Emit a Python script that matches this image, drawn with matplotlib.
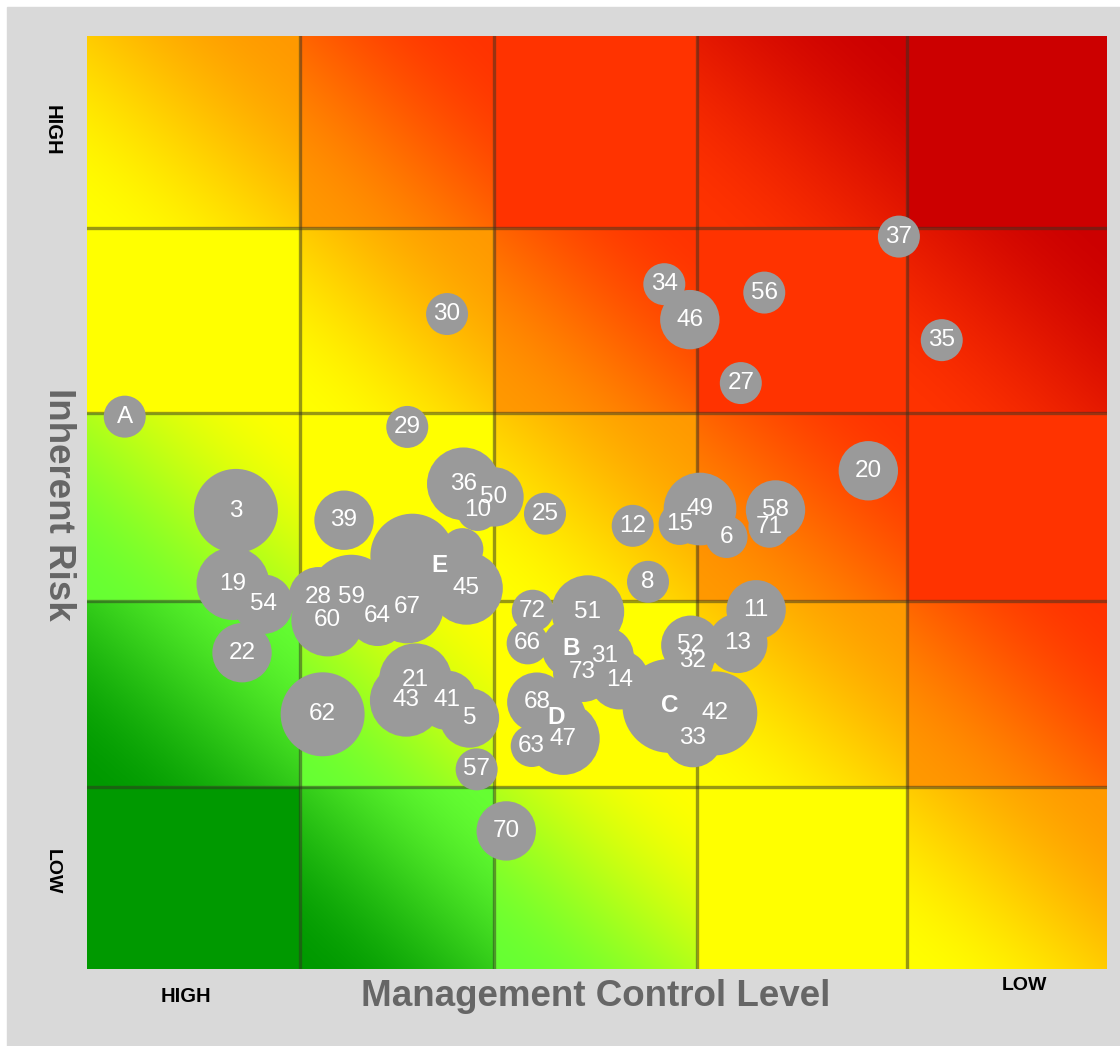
import numpy as np
import matplotlib
matplotlib.use("Agg")
import matplotlib.pyplot as plt
from matplotlib.colors import to_rgb
from matplotlib.patches import Rectangle

# heat palette, lowest to highest risk level
PALETTE = ["#009900", "#66ff33", "#ffff00", "#ff9900", "#ff3300", "#cc0000"]
# palette range for each diagonal band (row from bottom + column)
BAND_RANGE = [(0, 0), (0, 1), (1, 2), (2, 2), (2, 3), (3, 4), (4, 4), (4, 5), (5, 5)]
X_EDGES = [0, 20.9, 39.9, 59.8, 80.4, 100]
Y_EDGES = [0, 19.5, 39.4, 59.6, 79.4, 100]

# risk items: label, control level (0 = high .. 100 = low), inherent risk, size class
LABELS = ["A", "30", "29", "37", "34", "46", "56", "35", "27", "20",
          "49", "15", "6", "58", "71", "12", "8", "11", "13", "52",
          "32", "C", "42", "33", "25", "72", "51", "66", "B", "31",
          "73", "14", "68", "D", "63", "47", "3", "39", "19", "54",
          "22", "28", "59", "60", "64", "67", "E", "", "", "45",
          "36", "50", "10", "62", "21", "43", "41", "5", "57", "70"]
CONTROL = [3.7, 35.3, 31.4, 79.6, 56.6, 59.1, 66.4, 83.8, 64.1, 76.6,
           60.1, 58.1, 62.7, 67.5, 66.9, 53.5, 55.0, 65.6, 63.8, 59.2,
           59.4, 57.1, 61.6, 59.4, 44.9, 43.7, 49.1, 43.2, 47.5, 50.7,
           48.6, 52.2, 44.1, 46.0, 43.6, 46.7, 14.6, 25.2, 14.3, 17.3,
           15.2, 22.7, 25.9, 23.6, 28.5, 31.4, 34.6, 31.9, 36.8, 37.2,
           36.9, 39.9, 38.3, 23.1, 32.2, 31.3, 35.3, 37.5, 38.2, 41.1]
RISK = [59.2, 70.2, 58.1, 78.5, 73.4, 69.6, 72.5, 67.4, 62.8, 53.4,
        49.3, 47.7, 46.3, 49.2, 47.4, 47.5, 41.5, 38.5, 34.9, 34.7,
        33.0, 28.2, 27.4, 24.8, 48.8, 38.4, 38.3, 34.9, 34.4, 33.5,
        31.8, 31.0, 28.6, 27.0, 23.9, 24.7, 49.1, 48.1, 41.3, 39.1,
        33.9, 39.9, 39.9, 37.4, 37.8, 38.8, 43.2, 44.3, 45.0, 40.8,
        52.0, 50.6, 49.2, 27.3, 31.0, 28.8, 28.8, 26.9, 21.4, 14.8]
SIZE = [1, 1, 1, 1, 1, 2, 1, 1, 1, 2,
        3, 1, 1, 2, 1, 1, 1, 2, 2, 2,
        1, 5, 4, 2, 1, 1, 3, 1, 2, 2,
        2, 2, 2, 2, 1, 3, 4, 2, 3, 2,
        2, 2, 4, 3, 2, 3, 2, 4, 1, 3,
        3, 2, 1, 4, 3, 3, 2, 2, 1, 2]
GROUP_LABELS = {"B", "C", "D", "E"}

FIG_W, FIG_H = 1120, 1046
fig = plt.figure(figsize=(FIG_W / 100, FIG_H / 100), dpi=100, facecolor="white")
fig.patches.append(Rectangle((7 / FIG_W, 0), 1, 1 - 7 / FIG_H,
                             transform=fig.transFigure, color="#d9d9d9", zorder=-5))

ax = fig.add_axes([87 / FIG_W, 1 - 969 / FIG_H, 1020 / FIG_W, 933 / FIG_H])

# background heat map: each cell blends along its diagonal
W, H = 1020, 933
xs = (np.arange(W) + 0.5) / W * 100
ys = (np.arange(H) + 0.5) / H * 100
xe = np.array(X_EDGES)
ye = np.array(Y_EDGES)
col = np.clip(np.searchsorted(xe, xs, side="right") - 1, 0, 4)
row = np.clip(np.searchsorted(ye, ys, side="right") - 1, 0, 4)
u = (xs - xe[col]) / (xe[col + 1] - xe[col])
v = (ys - ye[row]) / (ye[row + 1] - ye[row])
band = row[:, None] + col[None, :]
t = (u[None, :] + v[:, None]) / 2
t = t * t * (3 - 2 * t)
lo = np.array([b[0] for b in BAND_RANGE])[band]
hi = np.array([b[1] for b in BAND_RANGE])[band]
lvl = lo + (hi - lo) * t
pal = np.array([to_rgb(c) for c in PALETTE])
i0 = np.clip(np.floor(lvl).astype(int), 0, len(PALETTE) - 2)
f = (lvl - i0)[..., None]
img = pal[i0] * (1 - f) + pal[i0 + 1] * f
ax.imshow(img, origin="lower", extent=(0, 100, 0, 100), aspect="auto",
          interpolation="bilinear", zorder=0)

for xv in X_EDGES[1:-1]:
    ax.axvline(xv, color="#333322", alpha=0.5, lw=2.4, zorder=1)
for yv in Y_EDGES[1:-1]:
    ax.axhline(yv, color="#333322", alpha=0.5, lw=2.4, zorder=1)

ax.scatter(CONTROL, RISK, s=np.array(SIZE) * 914, color="#9a9a9a",
           linewidths=0, zorder=3)
for lab, x, y in zip(LABELS, CONTROL, RISK):
    if not lab:
        continue
    ax.text(x, y, lab, ha="center", va="center", color="white",
            fontsize=17.5, family="Liberation Sans",
            fontweight="bold" if lab in GROUP_LABELS else "normal", zorder=4)

ax.set_xlim(0, 100)
ax.set_ylim(0, 100)
ax.set_xticks([])
ax.set_yticks([])
for sp in ax.spines.values():
    sp.set_visible(False)

fig.text(596 / FIG_W, 1 - 996 / FIG_H, "Management Control Level", ha="center",
         va="center", fontsize=26.5, fontweight="bold", color="#666666",
         family="Liberation Sans")
fig.text(58 / FIG_W, 1 - 504 / FIG_H, "Inherent Risk", ha="center", va="center",
         rotation=-90, fontsize=26.5, fontweight="bold", color="#666666",
         family="Liberation Sans")
fig.text(186 / FIG_W, 1 - 997 / FIG_H, "HIGH", ha="center", va="center",
         fontsize=14.5, fontweight="bold", color="black", family="Liberation Sans")
fig.text(1024 / FIG_W, 1 - 985 / FIG_H, "LOW", ha="center", va="center",
         fontsize=14, fontweight="bold", color="black", family="Liberation Sans")
fig.text(52 / FIG_W, 1 - 130 / FIG_H, "HIGH", ha="center", va="center",
         rotation=-90, fontsize=14.5, fontweight="bold", color="black",
         family="Liberation Sans")
fig.text(52 / FIG_W, 1 - 872 / FIG_H, "LOW", ha="center", va="center",
         rotation=-90, fontsize=14, fontweight="bold", color="black",
         family="Liberation Sans")

fig.savefig("out.png", dpi=100, facecolor=fig.get_facecolor())
